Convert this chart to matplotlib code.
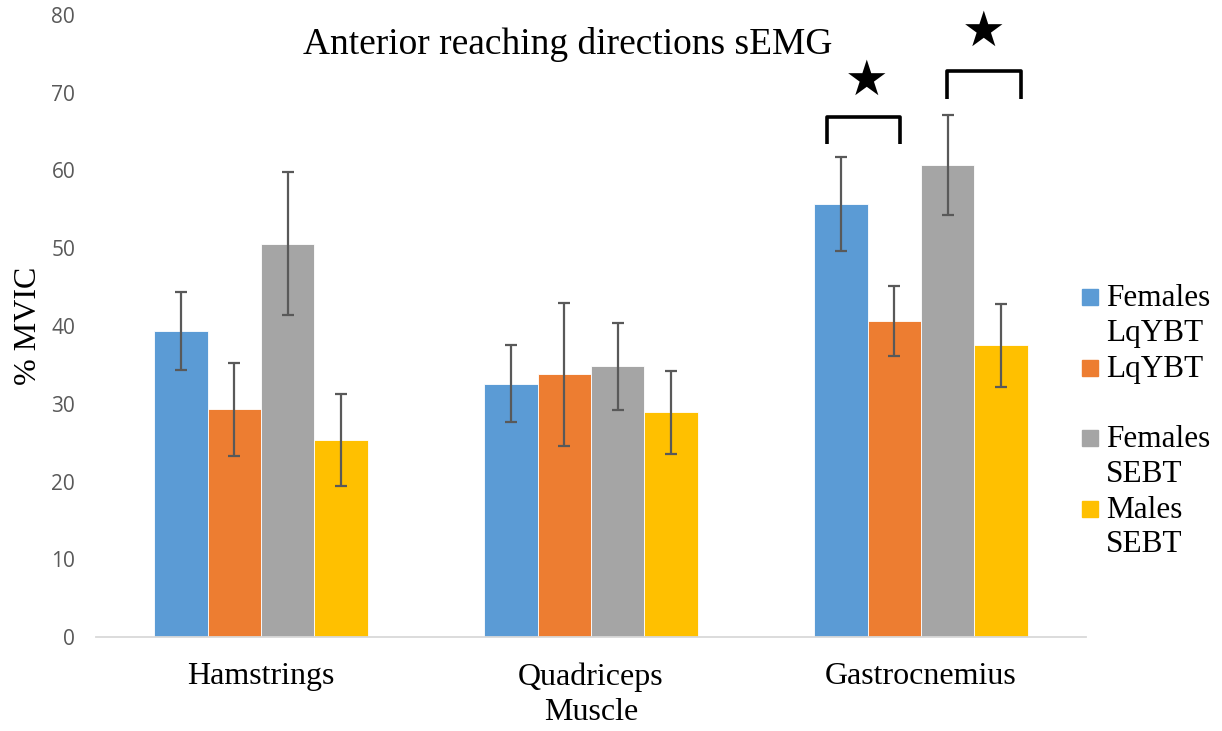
import numpy as np
import matplotlib.pyplot as plt
from matplotlib.patches import Rectangle

muscles = ["Hamstrings", "Quadriceps", "Gastrocnemius"]
groups = ["Females\nLqYBT", "LqYBT\n", "Females\nSEBT", "Males\nSEBT"]
colors = ["#5B9BD5", "#ED7D31", "#A5A5A5", "#FFC000"]

means = [
    [39.4, 32.6, 55.7],   # Females LqYBT
    [29.3, 33.8, 40.7],   # LqYBT
    [50.6, 34.8, 60.7],   # Females SEBT
    [25.3, 28.9, 37.5],   # Males SEBT
]
errs = [
    [5.0, 5.0, 6.1],
    [6.0, 9.2, 4.5],
    [9.2, 5.6, 6.4],
    [5.9, 5.3, 5.3],
]

# significance brackets (x0, x1, y_bottom, y_top) and star positions
brackets = [(1.715, 1.937, 63.4, 66.9), (2.078, 2.303, 69.2, 72.8)]
stars = [(1.834, 71.6), (2.190, 77.8)]

serif = "Liberation Serif"

fig = plt.figure(figsize=(12.22, 7.31), dpi=100)
ax = fig.add_axes([96 / 1222, 1 - 637 / 731, 990 / 1222, 622 / 731])

x = np.arange(len(muscles))
w = 0.1615
for i in range(len(groups)):
    ax.bar(x + (i - 1.5) * w, means[i], w, color=colors[i],
           edgecolor="white", linewidth=0.6, zorder=2)
    ax.errorbar(x + (i - 1.5) * w, means[i], yerr=errs[i], fmt="none",
                ecolor="#595959", elinewidth=1.6, capsize=4.3, capthick=1.6,
                zorder=3)

ax.set_xlim(-0.5, 2.5)
ax.set_ylim(0, 80)
ax.set_yticks(range(0, 81, 10))
ax.set_xticks(x)
ax.set_xticklabels(muscles, fontfamily=serif, fontsize=23)
for lab in ax.get_yticklabels():
    lab.set_fontfamily("Open Sans")
ax.tick_params(axis="y", length=0, pad=15, labelsize=15, labelcolor="#595959")
ax.tick_params(axis="x", length=0, pad=18)

for s in ["top", "right", "left"]:
    ax.spines[s].set_visible(False)
ax.spines["bottom"].set_color("#d9d9d9")
ax.spines["bottom"].set_linewidth(1.3)

ax.set_xlabel("Muscle", fontfamily=serif, fontsize=23, labelpad=5)
ax.set_ylabel("% MVIC", fontfamily=serif, fontsize=23)
ax.yaxis.set_label_coords(-0.054, 0.5)

ax.text(0.476, 0.937, "Anterior reaching directions sEMG", transform=ax.transAxes,
        ha="center", va="baseline", fontfamily=serif, fontsize=27)

for x0, x1, y0, y1 in brackets:
    ax.plot([x0, x0, x1, x1], [y0, y1, y1, y0], color="black", lw=2.6,
            solid_joinstyle="round", solid_capstyle="butt", clip_on=False)
for sx, sy in stars:
    ax.text(sx, sy, "\u2605", ha="center", va="center", fontsize=35,
            fontfamily="DejaVu Sans", clip_on=False)

# legend drawn by hand so the box sits at the first line of each label
for i, (lab, c) in enumerate(zip(groups, colors)):
    base = 306 + i * 70.5
    fig.add_artist(Rectangle((1082 / 1222, 1 - (base - 1) / 731), 16 / 1222, 16 / 731,
                             transform=fig.transFigure, color=c))
    for j, line in enumerate(lab.split("\n")):
        fig.text(1106 / 1222, 1 - (base + j * 35) / 731, line, ha="left",
                 va="baseline", fontfamily=serif, fontsize=22.5)

fig.savefig("out.png", dpi=100)
